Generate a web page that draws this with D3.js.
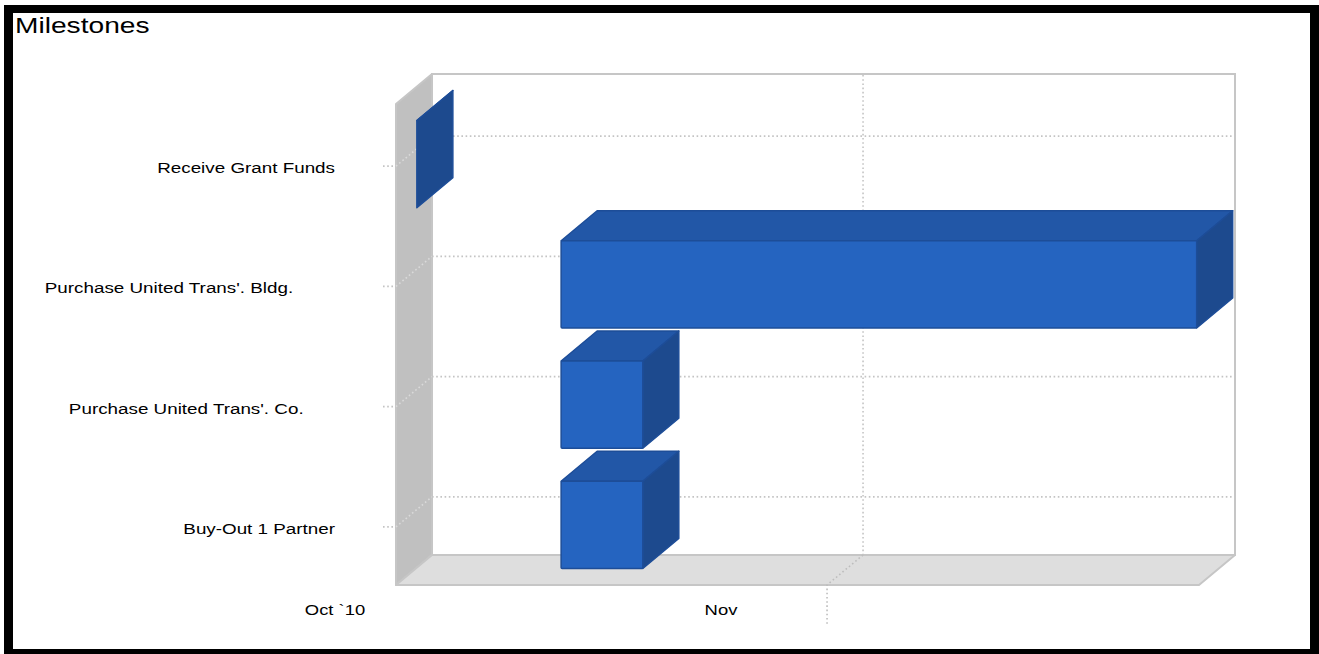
<!DOCTYPE html>
<html>
<head>
<meta charset="utf-8">
<script src="https://cdn.jsdelivr.net/npm/d3@7"></script>
<style>
  html, body { margin: 0; padding: 0; background: #fff; }
  svg { display: block; }
  text { font-family: "Liberation Sans", Arial, sans-serif; fill: #000; white-space: pre; }
</style>
</head>
<body>
<svg id="chart" width="1319" height="654"></svg>
<script>
// Milestone schedule (bottom to top)
const tasks = [
  "Buy-Out 1 Partner",
  "Purchase United Trans'. Co.      ",
  "Purchase United Trans'. Bldg.        ",
  "Receive Grant Funds"
];
const startDates = ["2010-10-12T21:00", "2010-10-12T21:00", "2010-10-12T21:00", "2010-10-02T12:00"];
const endDates   = ["2010-10-18T18:00", "2010-10-18T18:00", "2010-11-27T14:00", "2010-10-02T12:00"];

// Date axis
const axisDomain = ["2010-10-01T00:00", "2010-11-27T18:00"];
const tickDates  = ["2010-10-01T00:00", "2010-11-01T00:00"];
const tickLabels = ["Oct `10", "Nov"];
const gridDates  = ["2010-11-01T00:00"];

const title = "Milestones";

// ---- layout ----
const W = 1319, H = 654;
const front = { left: 396, right: 1199, top: 104, bottom: 585 };
const depth = { dx: 36, dy: -30 };

const parse = d3.isoParse;
const svg = d3.select("#chart");

// frame
svg.append("rect").attr("x", 4).attr("y", 5).attr("width", W - 4).attr("height", H - 5).attr("fill", "#000");
svg.append("rect").attr("x", 13).attr("y", 13).attr("width", 1297).attr("height", 636).attr("fill", "#fff");

svg.append("text")
  .attr("transform", "translate(15,33) scale(1.28,1)")
  .attr("font-size", 22)
  .text(title);

const x = d3.scaleTime().domain(axisDomain.map(parse)).range([front.left, front.right]);
const labelX = d3.scaleTime().domain(axisDomain.map(parse)).range([335, 1054]);
const y = d3.scaleBand().domain(tasks.slice().reverse()).range([front.top, front.bottom]).paddingInner(0).paddingOuter(0);

const back = (px, py) => [px + depth.dx, py + depth.dy];
const pts = arr => arr.map(p => p.join(",")).join(" ");

// ---- walls ----
const wallStroke = "#c6c6c6";
// left side wall
svg.append("polygon")
  .attr("points", pts([[front.left, front.top], back(front.left, front.top), back(front.left, front.bottom), [front.left, front.bottom]]))
  .attr("fill", "#c0c0c0").attr("stroke", wallStroke).attr("stroke-width", 2).attr("stroke-linejoin", "round");
// floor
svg.append("polygon")
  .attr("points", pts([[front.left, front.bottom], back(front.left, front.bottom), back(front.right, front.bottom), [front.right, front.bottom]]))
  .attr("fill", "#dedede").attr("stroke", wallStroke).attr("stroke-width", 2).attr("stroke-linejoin", "round");
// back wall
const bw0 = back(front.left, front.top), bw1 = back(front.right, front.bottom);
svg.append("rect")
  .attr("x", bw0[0]).attr("y", bw0[1]).attr("width", bw1[0] - bw0[0]).attr("height", bw1[1] - bw0[1])
  .attr("fill", "#fff").attr("stroke", wallStroke).attr("stroke-width", 2);

// ---- gridlines ----
const dotted = sel => sel.attr("fill", "none").attr("stroke-width", 1.6).attr("stroke-dasharray", "1.6,2.6");
const gridShift = 2;

tasks.forEach(t => {
  const cy = y(t) + y.bandwidth() / 2 + gridShift;
  const b = back(front.left, cy);
  svg.append("path").call(dotted).attr("stroke", "#c4c4c4")
    .attr("d", `M${front.left - 13},${cy}H${front.left}`);
  svg.append("path").call(dotted).attr("stroke", "#dadada")
    .attr("d", `M${front.left},${cy}L${b[0]},${b[1]}`);
  svg.append("path").call(dotted).attr("stroke", "#c4c4c4")
    .attr("d", `M${b[0]},${b[1]}H${front.right + depth.dx - 2}`);
});

gridDates.forEach(d => {
  const gx = x(parse(d));
  const top = back(gx, front.top), bot = back(gx, front.bottom);
  svg.append("path").call(dotted).attr("stroke", "#c4c4c4")
    .attr("d", `M${top[0]},${top[1] + 1}V${bot[1]}`);
  svg.append("path").call(dotted).attr("stroke", "#bdbdbd")
    .attr("d", `M${bot[0]},${bot[1]}L${gx},${front.bottom}V${front.bottom + 41}`);
});

// ---- axis labels ----
tickDates.forEach((d, i) => {
  svg.append("text")
    .attr("transform", `translate(${labelX(parse(d))},${front.bottom + 30}) scale(1.19,1)`)
    .attr("text-anchor", "middle")
    .attr("font-size", 15.5)
    .text(tickLabels[i]);
});

tasks.forEach(t => {
  const cy = y(t) + y.bandwidth() / 2;
  svg.append("text")
    .attr("transform", `translate(${front.left - 61},${cy + 9}) scale(1.215,1)`)
    .attr("text-anchor", "end")
    .attr("font-size", 15.5)
    .text(t);
});

// ---- 3D bars ----
const barH = y.bandwidth() * 0.725;
const faceFront = "#2564c0", faceTop = "#2257a7", faceSide = "#1d4a8e", edge = "#1d4d98";

const order = tasks.map((t, i) => i).reverse(); // upper bars first, lower bars overlap them
order.forEach(i => {
  const x0 = x(parse(startDates[i])), x1 = x(parse(endDates[i]));
  const yc = y(tasks[i]) + y.bandwidth() / 2;
  const y0 = yc - barH / 2, y1 = yc + barH / 2;
  const g = svg.append("g").attr("stroke", edge).attr("stroke-width", 1.5).attr("stroke-linejoin", "round");
  // top face
  g.append("polygon").attr("fill", faceTop)
    .attr("points", pts([[x0, y0], back(x0, y0), back(x1, y0), [x1, y0]]));
  // right side
  g.append("polygon").attr("fill", faceSide)
    .attr("points", pts([[x1, y0], back(x1, y0), back(x1, y1), [x1, y1]]));
  // front face
  if (x1 > x0) {
    g.append("rect").attr("fill", faceFront)
      .attr("x", x0).attr("y", y0).attr("width", x1 - x0).attr("height", y1 - y0).attr("rx", 1);
  }
});
</script>
</body>
</html>
